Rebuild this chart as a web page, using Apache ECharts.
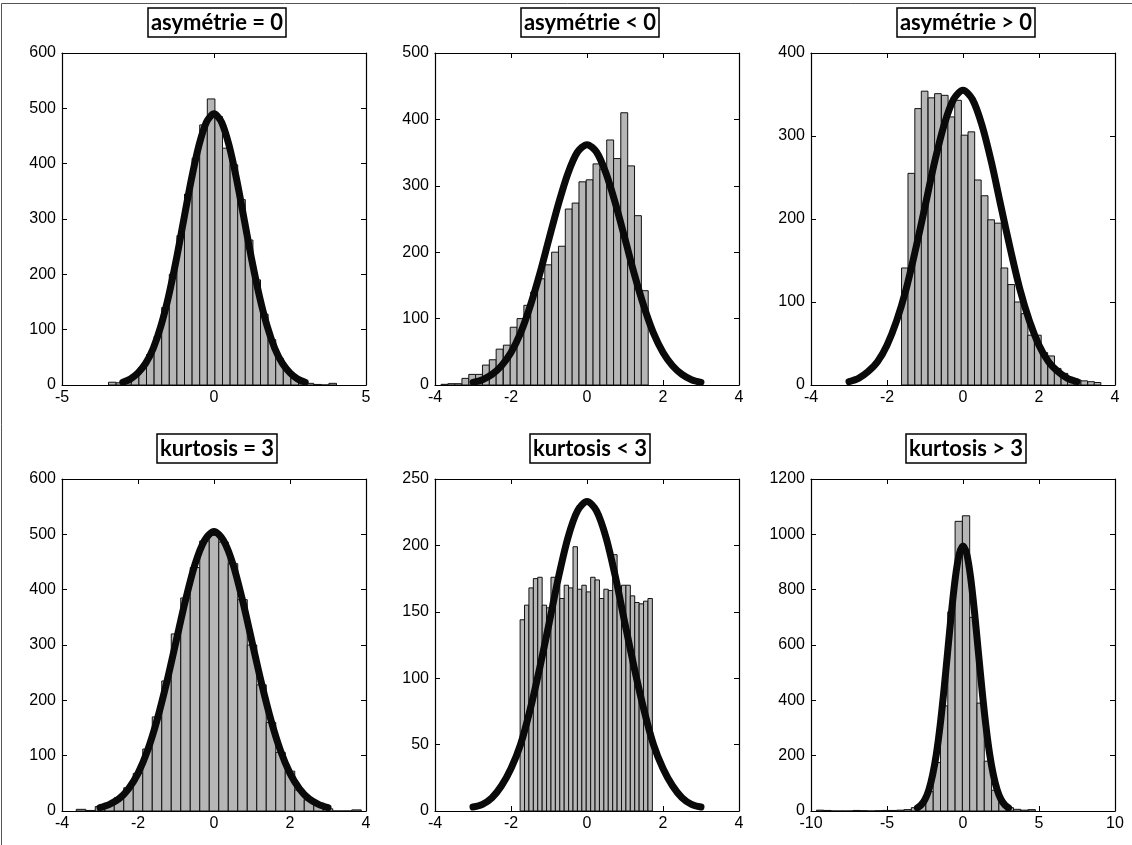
<!DOCTYPE html>
<html>
<head>
<meta charset="utf-8">
<title>asymétrie et kurtosis</title>
<script src="https://cdn.jsdelivr.net/npm/echarts@6.0.0/dist/echarts.min.js"></script>
<style>
  html, body { margin: 0; padding: 0; background: #fff; }
  #main { width: 1132px; height: 845px; }
</style>
</head>
<body>
<div id="main"></div>
<script>
// titres des 6 sous-graphes
var titles = ['asymétrie = 0', 'asymétrie < 0', 'asymétrie > 0', 'kurtosis = 3', 'kurtosis < 3', 'kurtosis > 3'];

// histogrammes : centres des classes et effectifs
var centers1 = [-3.345, -3.095, -2.845, -2.595, -2.345, -2.095, -1.845, -1.595, -1.345, -1.095, -0.845, -0.595, -0.345, -0.095, 0.155, 0.405, 0.655, 0.905, 1.155, 1.405, 1.655, 1.905, 2.155, 2.405, 2.655, 2.905, 3.155, 3.405, 3.655, 3.905];
var counts1 = [5, 4, 9, 17, 32, 55, 88, 140, 200, 270, 345, 410, 470, 517, 485, 428, 398, 335, 262, 190, 128, 82, 48, 27, 14, 7, 3, 1, 0, 3];

var centers2 = [-3.75, -3.57, -3.39, -3.20, -3.02, -2.84, -2.66, -2.48, -2.30, -2.11, -1.93, -1.75, -1.57, -1.39, -1.21, -1.02, -0.84, -0.66, -0.48, -0.30, -0.12, 0.07, 0.25, 0.43, 0.61, 0.79, 0.98, 1.16, 1.34, 1.52];
var counts2 = [1, 2, 2, 10, 16, 16, 30, 38, 54, 60, 87, 100, 120, 140, 160, 181, 200, 209, 265, 274, 306, 309, 333, 325, 369, 341, 410, 330, 255, 142];

var centers3 = [-1.53, -1.36, -1.18, -1.01, -0.83, -0.66, -0.48, -0.31, -0.13, 0.04, 0.22, 0.39, 0.57, 0.74, 0.92, 1.09, 1.27, 1.44, 1.62, 1.79, 1.97, 2.14, 2.32, 2.49, 2.67, 2.84, 3.02, 3.19, 3.37, 3.54];
var counts3 = [141, 255, 333, 354, 346, 351, 349, 323, 343, 301, 305, 247, 228, 199, 195, 141, 121, 100, 86, 60, 60, 39, 35, 20, 14, 9, 6, 5, 4, 3];

var centers4 = [-3.5, -3.25, -3.0, -2.75, -2.5, -2.25, -2.0, -1.75, -1.5, -1.25, -1.0, -0.75, -0.5, -0.25, 0, 0.25, 0.5, 0.75, 1.0, 1.25, 1.5, 1.75, 2.0, 2.25, 2.5, 2.75, 3.0, 3.25, 3.5, 3.75];
var counts4 = [3, 1, 8, 12, 24, 42, 68, 112, 170, 235, 320, 385, 440, 488, 498, 486, 447, 382, 300, 228, 160, 106, 72, 38, 20, 10, 4, 0, 0, 2];

var centers5 = [-1.702, -1.586, -1.470, -1.354, -1.238, -1.122, -1.006, -0.890, -0.774, -0.658, -0.542, -0.426, -0.310, -0.194, -0.078, 0.038, 0.154, 0.270, 0.386, 0.502, 0.618, 0.734, 0.850, 0.966, 1.082, 1.198, 1.314, 1.430, 1.546, 1.662];
var counts5 = [144, 155, 168, 175, 176, 155, 153, 176, 170, 160, 170, 168, 199, 167, 170, 165, 176, 174, 160, 167, 166, 193, 158, 170, 170, 162, 157, 156, 158, 160];

var centers6 = [-9.40, -8.92, -8.44, -7.96, -7.48, -7.00, -6.52, -6.04, -5.56, -5.08, -4.60, -4.12, -3.64, -3.16, -2.68, -2.20, -1.72, -1.24, -0.76, -0.28, 0.20, 0.68, 1.16, 1.64, 2.12, 2.60, 3.08, 3.56, 4.04, 4.52];
var counts6 = [3, 2, 0, 0, 0, 2, 1, 0, 1, 2, 2, 3, 5, 12, 28, 70, 175, 380, 720, 1047, 1067, 700, 390, 180, 75, 30, 12, 6, 3, 5];

// courbes normales ajustées
var curveX = [-3, -2.75, -2.5, -2.25, -2, -1.75, -1.5, -1.25, -1, -0.75, -0.5, -0.25, 0, 0.25, 0.5, 0.75, 1, 1.25, 1.5, 1.75, 2, 2.25, 2.5, 2.75, 3];
var fit1 = [5, 11, 22, 39, 66, 106, 159, 224, 297, 370, 432, 475, 490, 475, 432, 370, 297, 224, 159, 106, 66, 39, 22, 11, 5];
var fit2 = [4, 8, 16, 29, 49, 78, 118, 166, 220, 273, 319, 351, 362, 351, 319, 273, 220, 166, 118, 78, 49, 29, 16, 8, 4];
var fit3 = [4, 8, 16, 28, 48, 77, 115, 163, 215, 268, 313, 344, 355, 344, 313, 268, 215, 163, 115, 77, 48, 28, 16, 8, 4];
var fit4 = [6, 12, 22, 40, 68, 109, 164, 231, 306, 381, 446, 489, 505, 489, 446, 381, 306, 231, 164, 109, 68, 40, 22, 12, 6];
var fit5 = [3, 5, 10, 19, 32, 50, 76, 107, 141, 176, 206, 226, 233, 226, 206, 176, 141, 107, 76, 50, 32, 19, 10, 5, 3];
var fit6 = [11, 22, 42, 76, 130, 207, 311, 439, 581, 723, 845, 928, 958, 928, 845, 723, 581, 439, 311, 207, 130, 76, 42, 22, 11];

// axes
var xMin = [-5, -4, -4, -4, -4, -10];
var xMax = [5, 4, 4, 4, 4, 10];
var xStep = [5, 2, 2, 2, 2, 5];
var yMax = [600, 500, 400, 600, 250, 1200];
var yStep = [100, 100, 100, 100, 50, 200];

var allCenters = [centers1, centers2, centers3, centers4, centers5, centers6];
var allCounts = [counts1, counts2, counts3, counts4, counts5, counts6];
var allFits = [fit1, fit2, fit3, fit4, fit5, fit6];

// position des zones de tracé
var colLeft = [62, 435, 811];
var rowTop = [53, 479];
var plotW = 304, plotH = 332;

var chart = echarts.init(document.getElementById('main'), null, { renderer: 'canvas' });

function renderBar(params, api) {
  var p0 = api.coord([api.value(0), 0]);
  var p1 = api.coord([api.value(1), api.value(2)]);
  return {
    type: 'rect',
    shape: { x: p0[0], y: p1[1], width: p1[0] - p0[0], height: p0[1] - p1[1] },
    style: { fill: '#b6b6b6', stroke: '#111', lineWidth: 1 }
  };
}

var axisFont = {
  color: '#000', fontSize: 16, fontFamily: 'Liberation Sans, Arial, sans-serif',
  formatter: function (v) { return String(v); }
};
var grid = [], xAxis = [], yAxis = [], series = [], title = [];

for (var i = 0; i < 6; i++) {
  var gx = colLeft[i % 3], gy = rowTop[Math.floor(i / 3)];
  grid.push({ left: gx, top: gy, width: plotW, height: plotH, show: false });

  var xBase = {
    gridIndex: i, type: 'value', min: xMin[i], max: xMax[i], interval: xStep[i],
    axisLine: { show: true, onZero: false, lineStyle: { color: '#000', width: 1.2 } },
    axisTick: { show: true, inside: true, length: 5, lineStyle: { color: '#000' } },
    splitLine: { show: false }
  };
  xAxis.push(Object.assign({}, xBase, { position: 'bottom', axisLabel: Object.assign({ margin: 5 }, axisFont) }));
  xAxis.push(Object.assign({}, xBase, { position: 'top', axisLabel: { show: false } }));

  var yBase = {
    gridIndex: i, type: 'value', min: 0, max: yMax[i], interval: yStep[i],
    axisLine: { show: true, onZero: false, lineStyle: { color: '#000', width: 1.2 } },
    axisTick: { show: true, inside: true, length: 5, lineStyle: { color: '#000' } },
    splitLine: { show: false }
  };
  yAxis.push(Object.assign({}, yBase, { position: 'left', axisLabel: Object.assign({ margin: 6 }, axisFont) }));
  yAxis.push(Object.assign({}, yBase, { position: 'right', axisLabel: { show: false } }));

  var c = allCenters[i], n = allCounts[i];
  var w = (c[c.length - 1] - c[0]) / (c.length - 1);
  var bars = [];
  for (var k = 0; k < c.length; k++) {
    bars.push([c[k] - w / 2, c[k] + w / 2, n[k]]);
  }
  series.push({
    type: 'custom', xAxisIndex: 2 * i, yAxisIndex: 2 * i,
    renderItem: renderBar, data: bars, clip: true, z: 2
  });

  var f = allFits[i];
  var pts = [];
  for (var j = 0; j < curveX.length; j++) pts.push([curveX[j], f[j]]);
  series.push({
    type: 'line', xAxisIndex: 2 * i, yAxisIndex: 2 * i, data: pts,
    showSymbol: false, smooth: 0.3,
    lineStyle: { color: '#0a0a0a', width: 7, cap: 'round', join: 'round' },
    z: 3
  });

  title.push({
    text: titles[i],
    left: gx + plotW / 2,
    top: gy - 45,
    textAlign: 'center',
    borderColor: '#000', borderWidth: 1.5,
    backgroundColor: '#fff',
    padding: [2, 3, 1, 3],
    textStyle: { fontFamily: 'Lato, Open Sans, sans-serif', fontWeight: 'bold', fontSize: 22, lineHeight: 26, color: '#000' }
  });
}

chart.setOption({
  animation: false,
  backgroundColor: '#fff',
  title: title,
  grid: grid,
  xAxis: xAxis,
  yAxis: yAxis,
  series: series,
  graphic: [{
    type: 'rect', silent: true,
    shape: { x: 1.5, y: 3.5, width: 1160, height: 860 },
    style: { fill: 'none', stroke: '#555', lineWidth: 1 }
  }]
});
</script>
</body>
</html>
